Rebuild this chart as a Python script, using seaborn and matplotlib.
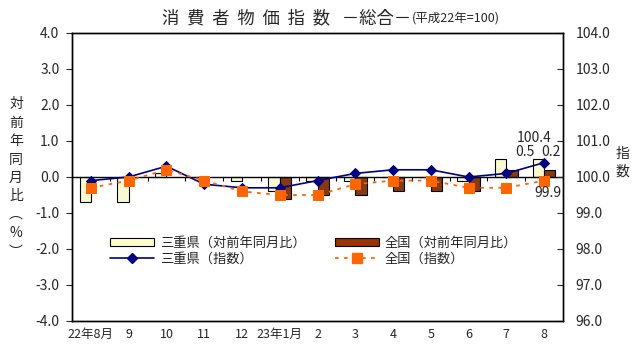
import numpy as np
import pandas as pd
import matplotlib
matplotlib.use("Agg")
import matplotlib.pyplot as plt
import seaborn as sns
from matplotlib.patches import Patch
from matplotlib.lines import Line2D

# -------------------------------
# Data
# -------------------------------
months = ["22年8月", "9", "10", "11", "12", "23年1月", "2", "3", "4", "5", "6", "7", "8"]
mie_yoy = [-0.7, -0.7, 0.1, 0.0, -0.1, -0.4, -0.1, -0.1, 0.0, 0.0, -0.1, 0.5, 0.5]
zen_yoy = [np.nan, np.nan, np.nan, np.nan, np.nan, -0.6, -0.5, -0.5, -0.4, -0.4, -0.4, 0.2, 0.2]
mie_idx = [99.9, 100.0, 100.3, 99.8, 99.7, 99.7, 99.9, 100.1, 100.2, 100.2, 100.0, 100.1, 100.4]
zen_idx = [99.7, 99.9, 100.2, 99.9, 99.6, 99.5, 99.5, 99.8, 99.9, 99.9, 99.7, 99.7, 99.9]

yoy_ticks = [-4.0, -3.0, -2.0, -1.0, 0.0, 1.0, 2.0, 3.0, 4.0]
idx_ticks = [96.0, 97.0, 98.0, 99.0, 100.0, 101.0, 102.0, 103.0, 104.0]

lab_mie_yoy = "三重県（対前年同月比）"
lab_zen_yoy = "全国（対前年同月比）"
lab_mie_idx = "三重県（指数）"
lab_zen_idx = "全国（指数）"

# -------------------------------
# Build tables
# -------------------------------
pos = np.arange(len(months))
bars = pd.DataFrame({
    "month": months * 2,
    "yoy": mie_yoy + zen_yoy,
    "area": ["三重県"] * len(months) + ["全国"] * len(months),
})
idx = pd.DataFrame({"pos": pos, "mie": mie_idx, "zen": zen_idx})

# -------------------------------
# Style
# -------------------------------
sns.set_style("white")
plt.rcParams["font.family"] = ["Noto Sans CJK JP", "DejaVu Sans"]

W, H = 638, 354
fig = plt.figure(figsize=(W / 100, H / 100), dpi=100)
ax = fig.add_axes([72 / W, 1 - 321 / H, (563 - 72) / W, (321 - 33) / H])

# -------------------------------
# Bars (year-on-year)
# -------------------------------
sns.barplot(data=bars, x="month", y="yoy", hue="area", order=months,
            hue_order=["三重県", "全国"],
            palette={"三重県": "#FFFFCC", "全国": "#993300"},
            width=0.6, edgecolor="black", linewidth=0.8, legend=False, ax=ax)
ax.set_ylim(-4, 4)
ax.set_xlim(-0.5, len(months) - 0.5)
ax.set_yticks(yoy_ticks)
ax.set_yticklabels([f"{v:.1f}" for v in yoy_ticks], fontsize=10)
ax.set_xlabel("")
ax.set_ylabel("")
ax.tick_params(axis="x", length=0, pad=5, labelsize=9)
ax.tick_params(axis="y", direction="out", length=4, width=0.8, pad=5, left=True)
ax.axhline(0, color="black", linewidth=1.0, zorder=3)
# category boundary ticks hanging from the zero line
ax.vlines(np.arange(len(months) + 1) - 0.5, -0.12, 0, color="black", linewidth=0.8, zorder=3)
for s in ax.spines.values():
    s.set_color("black")
    s.set_linewidth(1.0)

# -------------------------------
# Lines (index) on right axis
# -------------------------------
ax2 = ax.twinx()
sns.lineplot(data=idx, x="pos", y="mie", ax=ax2, color="#000080", linewidth=1.2,
             marker="D", markersize=5, markeredgecolor="#000080", label=lab_mie_idx)
sns.lineplot(data=idx, x="pos", y="zen", ax=ax2, color="#FF6600", linewidth=1.3,
             linestyle=(0, (2, 3)), marker="s", markersize=7, markeredgecolor="#FF6600",
             label=lab_zen_idx)
ax2.set_ylim(96, 104)
ax2.set_yticks(idx_ticks)
ax2.set_yticklabels([f"{v:.1f}" for v in idx_ticks], fontsize=10)
ax2.set_ylabel("")
ax2.set_xlabel("")
ax2.tick_params(axis="y", direction="in", length=4, width=0.8, pad=9, right=True)
ax2.get_legend().remove()
for s in ax2.spines.values():
    s.set_color("black")
    s.set_linewidth(1.0)

# -------------------------------
# Data labels for the last month
# -------------------------------
last = len(months) - 1
ax2.annotate(f"{mie_idx[-1]:.1f}", (last, mie_idx[-1]), xytext=(-10, 25),
             textcoords="offset pixels", ha="center", va="center", fontsize=10)
ax2.annotate(f"{zen_idx[-1]:.1f}", (last, zen_idx[-1]), xytext=(4, -12),
             textcoords="offset pixels", ha="center", va="center", fontsize=10)
ax.annotate(f"{mie_yoy[-1]:.1f}", (last, mie_yoy[-1]), xytext=(-19, 7),
            textcoords="offset pixels", ha="center", va="center", fontsize=10)
ax.annotate(f"{zen_yoy[-1]:.1f}", (last, zen_yoy[-1]), xytext=(7, 18),
            textcoords="offset pixels", ha="center", va="center", fontsize=10)

# -------------------------------
# Legend
# -------------------------------
handles = [
    Patch(facecolor="#FFFFCC", edgecolor="black", linewidth=0.8, label=lab_mie_yoy),
    Line2D([], [], color="#000080", linewidth=1.2, marker="D", markersize=5, label=lab_mie_idx),
    Patch(facecolor="#993300", edgecolor="black", linewidth=0.8, label=lab_zen_yoy),
    Line2D([], [], color="#FF6600", linewidth=1.3, linestyle=(0, (2, 3)), marker="s",
           markersize=7, label=lab_zen_idx),
]
fig.legend(handles=handles, loc="upper left", bbox_to_anchor=(103 / W, 1 - 230 / H),
           ncol=2, frameon=False, fontsize=9.5, handlelength=3.4, handleheight=0.5,
           columnspacing=2.2, handletextpad=0.4, labelspacing=0.2, borderpad=0)

# -------------------------------
# Titles and axis captions
# -------------------------------
fig.text(411 / W, 1 - 18 / H, "消  費  者  物  価  指  数   －総合－", ha="right", va="center", fontsize=12.5)
fig.text(412 / W, 1 - 19 / H, "(平成22年=100)", ha="left", va="center", fontsize=9)
fig.text(16 / W, 1 - 178 / H, "対\n前\n年\n同\n月\n比\n︵\n%\n︶", ha="center", va="center",
         fontsize=10, linespacing=1.4)
fig.text(622 / W, 1 - 163 / H, "指\n数", ha="center", va="center", fontsize=10, linespacing=1.3)

fig.savefig("out.png", dpi=100)
